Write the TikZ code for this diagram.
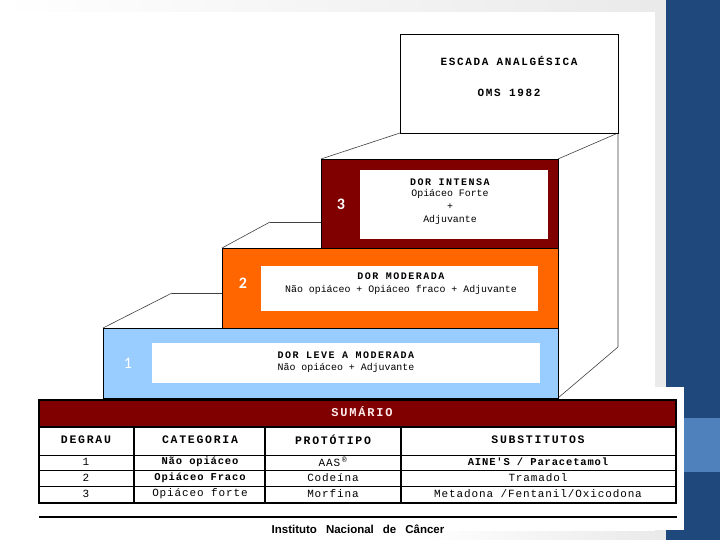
\documentclass[tikz,border=0pt]{standalone}
\usepackage{fontspec}
\setmainfont{Liberation Serif}
\newfontfamily\mono{Liberation Mono}
\newfontfamily\monosp[LetterSpace=15]{Liberation Mono}
\newfontfamily\monocell[LetterSpace=8]{Liberation Mono}
\newfontfamily\lsans{Liberation Sans}
\newfontfamily\carl{Carlito}
\definecolor{darkred}{HTML}{800000}
\definecolor{stepor}{HTML}{FF6600}
\definecolor{steplb}{HTML}{99CCFF}
\definecolor{panelblue}{HTML}{1F497D}
\definecolor{bandblue}{HTML}{4F81BD}
\definecolor{edgegray}{HTML}{EAEAEA}
\tikzset{
  tread/.style={draw=black!75, line width=0.6pt},
  stepbox/.style={draw=black, line width=0.8pt},
  innerbox/.style={fill=white},
  num/.style={text=white, font=\carl\bfseries\fontsize{16}{16}\selectfont, anchor=center},
  caps/.style={font=\monosp\bfseries\fontsize{10}{11}\selectfont, anchor=center},
  titletext/.style={font=\monosp\bfseries\fontsize{11}{12}\selectfont, anchor=center},
  plain/.style={font=\mono\fontsize{9.9}{10}\selectfont, anchor=center},
  cell/.style={font=\monocell\fontsize{11}{12}\selectfont, anchor=center},
  boldcell/.style={font=\monocell\bfseries\fontsize{10.5}{12}\selectfont, anchor=center},
  headcell/.style={font=\monosp\bfseries\fontsize{11.5}{12}\selectfont, anchor=center},
  tline/.style={draw=black, line width=1.1pt},
  thinline/.style={draw=black, line width=0.8pt},
}
\begin{document}
\begin{tikzpicture}[x=1pt,y=-1pt]
\useasboundingbox (0,0) rectangle (720,540);
% background
\fill[edgegray] (0,0) rectangle (666,540);
\shade[left color=white, right color=edgegray] (0,0) rectangle (655,12);
\fill[white] (0,12) rectangle (655,540);
\shade[left color=white, right color=edgegray] (420,531) rectangle (655,540);
\fill[panelblue] (666,0) rectangle (720,540);
\fill[bandblue] (684,418) rectangle (720,472);
\fill[white] (30,387) rectangle (684,530);
% perspective lines
\draw[tread] (400,133) -- (321,159);
\draw[tread] (618,133) -- (558,159);
\draw[tread] (270,222) -- (222,248);
\draw[tread] (270,222) -- (321,222);
\draw[tread] (172,293) -- (103,328);
\draw[tread] (172,293) -- (222,293);
\draw[tread] (618,133) -- (618,347) -- (558,398);
% title box
\draw[stepbox, fill=white] (400,34) rectangle (618,133);
\node[titletext] (t1) at (509,61) {ESCADA ANALGÉSICA};
\node[titletext] (t2) at (509,93) {OMS 1982};
% step 3
\draw[stepbox, fill=darkred] (321,159) rectangle (558,249);
\fill[innerbox] (360,170) rectangle (548,239);
\node[num] (n3) at (341,204) {3};
\node[caps] (s3a) at (450,182) {DOR INTENSA};
\node[plain] (s3b) at (450,194) {Opiáceo Forte};
\node[plain] (s3c) at (450,207) {+};
\node[plain] (s3d) at (450,220) {Adjuvante};
% step 2
\draw[stepbox, fill=stepor] (222,248) rectangle (558,329);
\fill[innerbox] (261,266) rectangle (538,311);
\node[num] (n2) at (243,283) {2};
\node[caps] (s2a) at (401,276) {DOR MODERADA};
\node[plain] (s2b) at (401,290) {Não opiáceo + Opiáceo fraco + Adjuvante};
% step 1
\draw[stepbox, fill=steplb] (103,328) rectangle (558,398);
\fill[innerbox] (152,343) rectangle (540,383);
\node[num, font=\carl\fontsize{16}{16}\selectfont] (n1) at (128,363) {1};
\node[caps] (s1a) at (346,355) {DOR LEVE A MODERADA};
\node[plain] (s1b) at (346,368) {Não opiáceo + Adjuvante};
% table
\fill[darkred] (39,400) rectangle (676,427);
\node[headcell, font=\monosp\bfseries\fontsize{12}{12}\selectfont, text=white!92!red] (sum) at (362,412) {SUMÁRIO};
\draw[tline] (39,427) -- (676,427);
\draw[thinline] (39,455) -- (676,455);
\draw[thinline] (39,470) -- (676,470);
\draw[thinline] (39,486) -- (676,486);
\draw[tline] (134,427) -- (134,503);
\draw[tline] (265,427) -- (265,503);
\draw[tline] (401,427) -- (401,503);
\draw[draw=black, line width=2pt] (39,400) rectangle (676,503);
\node[headcell] (h1) at (86,440) {DEGRAU};
\node[headcell] (h2) at (200,440) {CATEGORIA};
\node[headcell] (h3) at (333,440) {PROTÓTIPO};
\node[headcell] (h4) at (538,440) {SUBSTITUTOS};
\node[cell] (r1a) at (86,462) {1};
\node[cell] (r2a) at (86,478) {2};
\node[cell] (r3a) at (86,494) {3};
\node[boldcell] (r1b) at (200,462) {Não opiáceo};
\node[boldcell] (r2b) at (200,478) {Opiáceo Fraco};
\node[cell] (r3b) at (200,494) {Opiáceo forte};
\node[cell] (r1c) at (333,462) {AAS\,\textsuperscript{®}};
\node[cell] (r2c) at (333,478) {Codeína};
\node[cell] (r3c) at (333,494) {Morfina};
\node[boldcell] (r1d) at (538,462) {AINE'S / Paracetamol};
\node[cell] (r2d) at (538,478) {Tramadol};
\node[cell] (r3d) at (538,494) {Metadona /Fentanil/Oxicodona};
% footer
\draw[draw=black, line width=2pt] (39,517) -- (677,517);
\node[font=\lsans\bfseries\fontsize{11.5}{12}\selectfont, anchor=center] (foot) at (358,529) {Instituto\hspace{9pt}Nacional\hspace{9pt}de\hspace{9pt}Câncer};
\end{tikzpicture}
\end{document}
